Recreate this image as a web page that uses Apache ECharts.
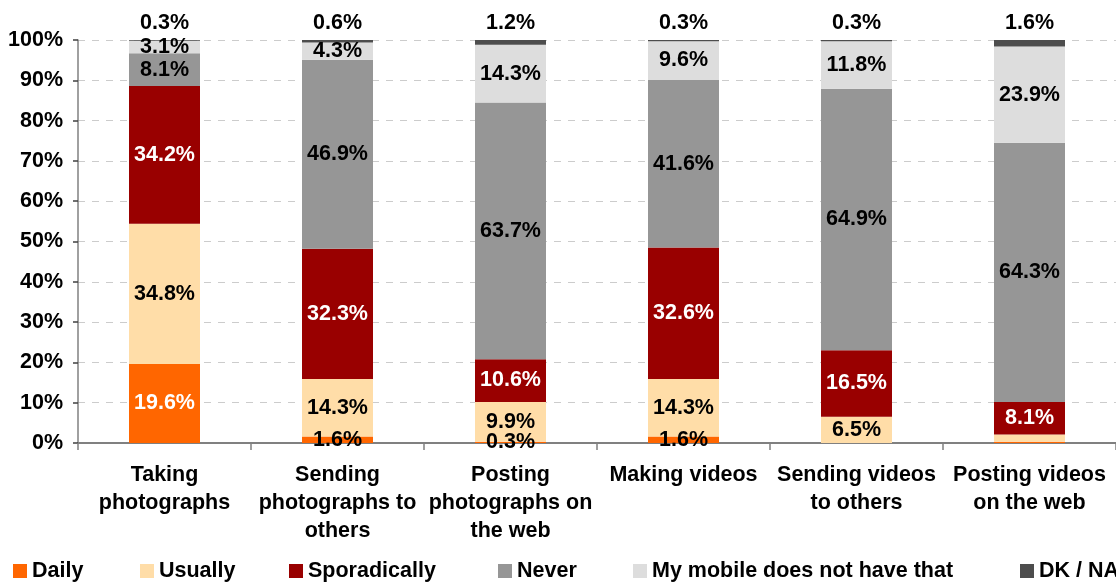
<!DOCTYPE html>
<html>
<head>
<meta charset="utf-8">
<script src="https://cdn.jsdelivr.net/npm/echarts@6/dist/echarts.min.js"></script>
<style>
  html, body { margin: 0; padding: 0; background: #fff; }
  #chart { width: 1116px; height: 584px; }
</style>
</head>
<body>
<div id="chart"></div>
<script>
// Mobile phone use: how often each activity is done (% of respondents)
const categories = [
  'Taking\nphotographs',
  'Sending\nphotographs to\nothers',
  'Posting\nphotographs on\nthe web',
  'Making videos',
  'Sending videos\nto others',
  'Posting videos\non the web'
];
const seriesNames = ['Daily', 'Usually', 'Sporadically', 'Never', 'My mobile does not have that', 'DK / NA'];
const daily       = [19.6, 1.6, 0.3, 1.6, 0.0, 0.3];
const usually     = [34.8, 14.3, 9.9, 14.3, 6.5, 1.8];
const sporadic    = [34.2, 32.3, 10.6, 32.6, 16.5, 8.1];
const never       = [8.1, 46.9, 63.7, 41.6, 64.9, 64.3];
const noFeature   = [3.1, 4.3, 14.3, 9.6, 11.8, 23.9];
const dkNa        = [0.3, 0.6, 1.2, 0.3, 0.3, 1.6];
const yTicks      = [0, 10, 20, 30, 40, 50, 60, 70, 80, 90, 100];
// segments printed without a value label: [series index, category index]
const unlabeled   = [[0, 4], [0, 5], [1, 5]];

const colors = ['#FF6600', '#FFDDA8', '#990000', '#969696', '#DDDDDD', '#4D4D4D'];
const font = "'Liberation Sans', Arial, sans-serif";
const fs = 21.5;

const values = [daily, usually, sporadic, never, noFeature, dkNa];

function buildData(si) {
  return values[si].map((v, ci) => {
    const hidden = unlabeled.some(p => p[0] === si && p[1] === ci);
    const item = { value: v };
    const lab = {};
    if (hidden) lab.show = false;
    if (si === 0) lab.color = v > 5 ? '#fff' : '#000';
    item.label = lab;
    return item;
  });
}

const series = seriesNames.map((name, si) => ({
  name: name,
  type: 'bar',
  stack: 'total',
  barWidth: 71,
  itemStyle: { color: colors[si] },
  label: {
    show: true,
    position: si === 5 ? 'top' : 'inside',
    distance: 6,
    formatter: p => p.value.toFixed(1) + '%',
    fontFamily: font,
    fontSize: fs,
    fontWeight: 'bold',
    color: si === 2 ? '#fff' : '#000'
  },
  emphasis: { disabled: true },
  data: buildData(si)
}));

const legendLeft = [13, 140, 289, 498, 633, 1020];
const legends = seriesNames.map((name, i) => ({
  data: [name],
  left: legendLeft[i],
  top: 560,
  width: 1200,
  padding: 0,
  icon: 'rect',
  itemWidth: 14,
  itemHeight: 14,
  itemGap: 0,
  selectedMode: false,
  textStyle: { fontFamily: font, fontSize: fs, fontWeight: 'bold', color: '#000' }
}));

const chart = echarts.init(document.getElementById('chart'), null, { renderer: 'canvas' });
chart.setOption({
  animation: false,
  backgroundColor: '#fff',
  legend: legends,
  grid: { left: 78, right: -6, top: 40, bottom: 141, containLabel: false },
  xAxis: {
    type: 'category',
    data: categories,
    axisLine: { lineStyle: { color: '#808080', width: 2 } },
    axisTick: { show: true, alignWithLabel: false, length: 7, lineStyle: { color: '#808080', width: 1.5 } },
    axisLabel: {
      interval: 0,
      margin: 18,
      lineHeight: 28,
      fontFamily: font,
      fontSize: fs,
      fontWeight: 'bold',
      color: '#000'
    }
  },
  yAxis: {
    type: 'value',
    min: yTicks[0],
    max: yTicks[yTicks.length - 1],
    interval: yTicks[1] - yTicks[0],
    axisLine: { show: true, lineStyle: { color: '#808080', width: 1.5 } },
    axisTick: { show: true, inside: false, length: 5, lineStyle: { color: '#404040', width: 1.5 } },
    splitLine: { show: true, lineStyle: { color: '#cccccc', type: [7, 7], width: 1 } },
    axisLabel: {
      margin: 15,
      formatter: v => v + '%',
      fontFamily: font,
      fontSize: fs,
      fontWeight: 'bold',
      color: '#000'
    }
  },
  series: series
});
</script>
</body>
</html>
